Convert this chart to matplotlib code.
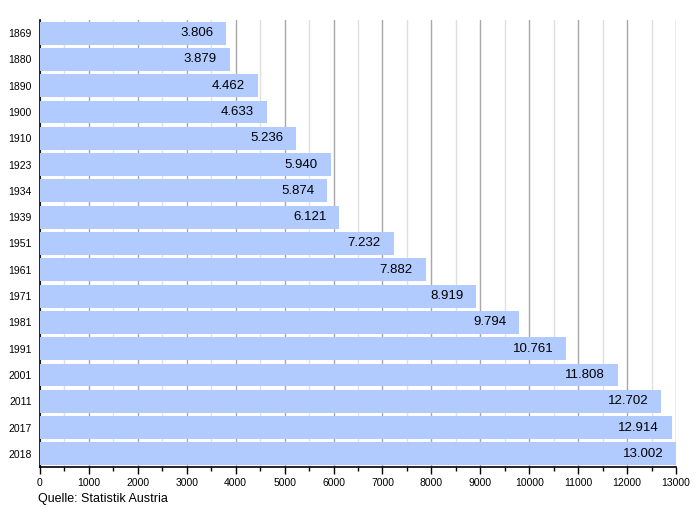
import matplotlib
matplotlib.use("Agg")
import matplotlib.pyplot as plt
from matplotlib.ticker import MultipleLocator

plt.rcParams['font.family'] = ['Liberation Sans', 'DejaVu Sans']

# population data (Statistik Austria)
years = ["1869", "1880", "1890", "1900", "1910", "1923", "1934", "1939", "1951",
         "1961", "1971", "1981", "1991", "2001", "2011", "2017", "2018"]
population = [3806, 3879, 4462, 4633, 5236, 5940, 5874, 6121, 7232,
              7882, 8919, 9794, 10761, 11808, 12702, 12914, 13002]

fig = plt.figure(figsize=(7, 5.08), dpi=100)
ax = fig.add_axes([0.0571, 0.0807, 0.9086, 0.880])

pos = list(range(len(years)))
ax.barh(pos, population, height=0.87, color="#b2cbff", zorder=3)

# value labels inside the bars, right aligned
for p, v in zip(pos, population):
    label = f"{v:,}".replace(",", ".")
    ax.annotate(label, (v, p), xytext=(-13, 0), textcoords="offset pixels",
                ha="right", va="center", fontsize=9.5, color="black", zorder=4)

ax.set_xlim(0, 13000)
ax.set_ylim(16.5, -0.5)
ax.set_yticks(pos)
ax.set_yticklabels(years, fontsize=7.5)
ax.tick_params(axis="y", length=0, pad=6)

ax.xaxis.set_major_locator(MultipleLocator(1000))
ax.xaxis.set_minor_locator(MultipleLocator(500))
ax.tick_params(axis="x", which="major", length=5, width=1, labelsize=7.5, pad=3)
ax.tick_params(axis="x", which="minor", length=3, width=1)

# grid behind bars
ax.grid(axis="x", which="major", color="#a8a8a8", linewidth=1, zorder=0)
ax.grid(axis="x", which="minor", color="#e0e0e0", linewidth=1, zorder=0)

for s in ["top", "right"]:
    ax.spines[s].set_visible(False)
ax.spines["left"].set_linewidth(1.2)
ax.spines["bottom"].set_linewidth(1.2)

fig.text(38 / 700, 1 - 499 / 508, "Quelle: Statistik Austria", fontsize=9,
         ha="left", va="center")

fig.savefig("out.png", dpi=100)
